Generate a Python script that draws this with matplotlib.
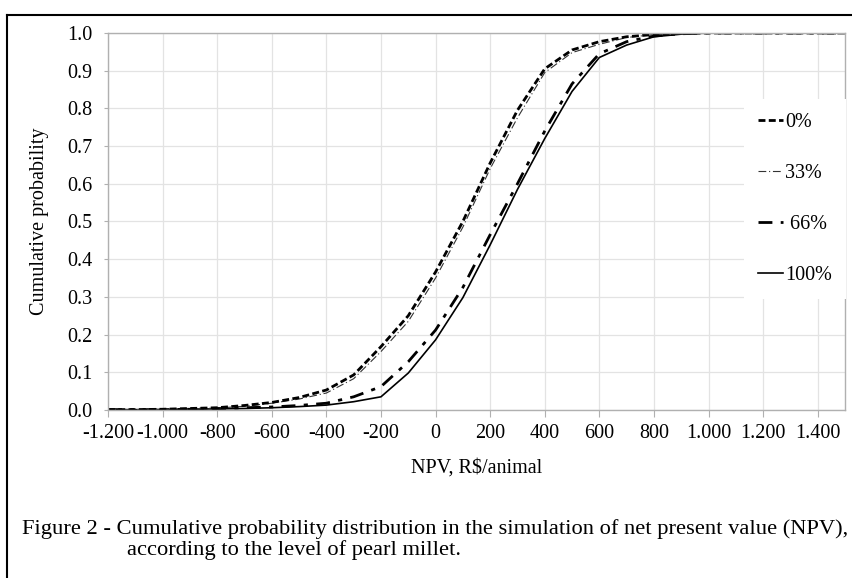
import matplotlib
matplotlib.use("Agg")
import matplotlib.pyplot as plt
from matplotlib.lines import Line2D
from matplotlib.ticker import FuncFormatter, MultipleLocator

## Data (NPV in R$/animal, cumulative probability)
npv = [-1200, -1100, -1000, -900, -800, -700, -600, -500, -400, -300, -200, -100,
       0, 100, 200, 300, 400, 500, 600, 700, 800, 900, 1000, 1100, 1200, 1300, 1400, 1500]
p0 = [0.001, 0.001, 0.002, 0.004, 0.006, 0.012, 0.020, 0.033, 0.053, 0.093, 0.168, 0.250,
      0.366, 0.500, 0.655, 0.795, 0.905, 0.955, 0.977, 0.990, 0.996, 0.999, 1.0, 1.0, 1.0, 1.0, 1.0, 1.0]
p33 = [0.001, 0.001, 0.002, 0.003, 0.005, 0.010, 0.018, 0.029, 0.045, 0.083, 0.155, 0.235,
       0.350, 0.485, 0.640, 0.775, 0.895, 0.948, 0.970, 0.988, 0.996, 0.999, 1.0, 1.0, 1.0, 1.0, 1.0, 1.0]
p66 = [0.001, 0.001, 0.001, 0.002, 0.004, 0.006, 0.008, 0.012, 0.018, 0.035, 0.062, 0.128,
       0.212, 0.325, 0.465, 0.600, 0.740, 0.865, 0.945, 0.977, 0.992, 0.998, 1.0, 1.0, 1.0, 1.0, 1.0, 1.0]
p100 = [0.001, 0.001, 0.001, 0.002, 0.003, 0.004, 0.006, 0.009, 0.013, 0.022, 0.035, 0.098,
        0.186, 0.298, 0.438, 0.585, 0.720, 0.845, 0.935, 0.968, 0.990, 0.997, 1.0, 1.0, 1.0, 1.0, 1.0, 1.0]
labels = ["0%", "33%", " 66%", "100%"]

FONT = "Liberation Serif"
plt.rcParams["font.family"] = FONT
FS = 14.5

fig = plt.figure(figsize=(8.53, 5.78), dpi=100)
ax = fig.add_axes([108 / 853, 1 - 410 / 578, (845 - 108) / 853, (410 - 33) / 578])

# curves
st0 = dict(color="black", lw=2.0, dashes=(2.5, 1.2))
st33 = dict(color="#333333", lw=0.8, dashes=(7, 2.5, 1, 2.5))
st66 = dict(color="black", lw=2.0, dashes=(5, 3, 1.5, 3))
st100 = dict(color="black", lw=1.2, linestyle="-")
ax.plot(npv, p100, **st100)
ax.plot(npv, p66, **st66)
ax.plot(npv, p33, **st33)
ax.plot(npv, p0, **st0)

ax.set_xlim(-1200, 1500)
ax.set_ylim(0, 1.0)
ax.set_xticks(range(-1200, 1401, 200))
ax.yaxis.set_major_locator(MultipleLocator(0.1))
ax.xaxis.set_major_formatter(FuncFormatter(lambda v, p: f"{int(v):,}".replace(",", ".")))
ax.yaxis.set_major_formatter(FuncFormatter(lambda v, p: f"{v:.1f}"))
ax.grid(True, color="#e3e3e3", lw=0.9)
ax.set_axisbelow(True)
for s in ax.spines.values():
    s.set_color("#b0b0b0")
    s.set_linewidth(1.0)
ax.tick_params(axis="x", direction="out", length=5, color="#b0b0b0", labelsize=FS, pad=5)
ax.tick_params(axis="y", direction="out", length=3, color="#b0b0b0", labelsize=FS, pad=8)

ax.set_xlabel("NPV, R$/animal", fontsize=FS, labelpad=11)
ax.set_ylabel("Cumulative probability", fontsize=FS, labelpad=13)

# legend
handles = [Line2D([], [], **st0), Line2D([], [], **st33), Line2D([], [], **st66), Line2D([], [], **st100)]
leg = ax.legend(handles, labels, loc="upper left", bbox_to_anchor=((744 - 108) / 737, (410 - 99) / 377),
                frameon=True, facecolor="white", edgecolor="none", fancybox=False, framealpha=1,
                fontsize=FS, handlelength=1.25, handletextpad=0.1, labelspacing=1.58,
                borderpad=0.7, borderaxespad=0)
leg.get_frame().set_boxstyle("square", pad=0)

# outer frame of the figure box
fig.add_artist(Line2D([7 / 853, 7 / 853], [0, 1 - 15 / 578], color="black", lw=1.5))
fig.add_artist(Line2D([7 / 853, 1], [1 - 15 / 578, 1 - 15 / 578], color="black", lw=1.5))

# caption
line1 = "Figure 2 - Cumulative probability distribution in the simulation of net present value (NPV),"
line2 = "according to the level of pearl millet."
t1 = fig.text(22 / 853, 1 - 529 / 578, line1, fontsize=14, va="center", ha="left")
fig.canvas.draw()
w = t1.get_window_extent().width
t1.set_fontsize(14 * 826 / w)
fig.text(127 / 853, 1 - 550 / 578, line2, fontsize=14 * 826 / w, va="center", ha="left")

fig.savefig("out.png", dpi=100)
